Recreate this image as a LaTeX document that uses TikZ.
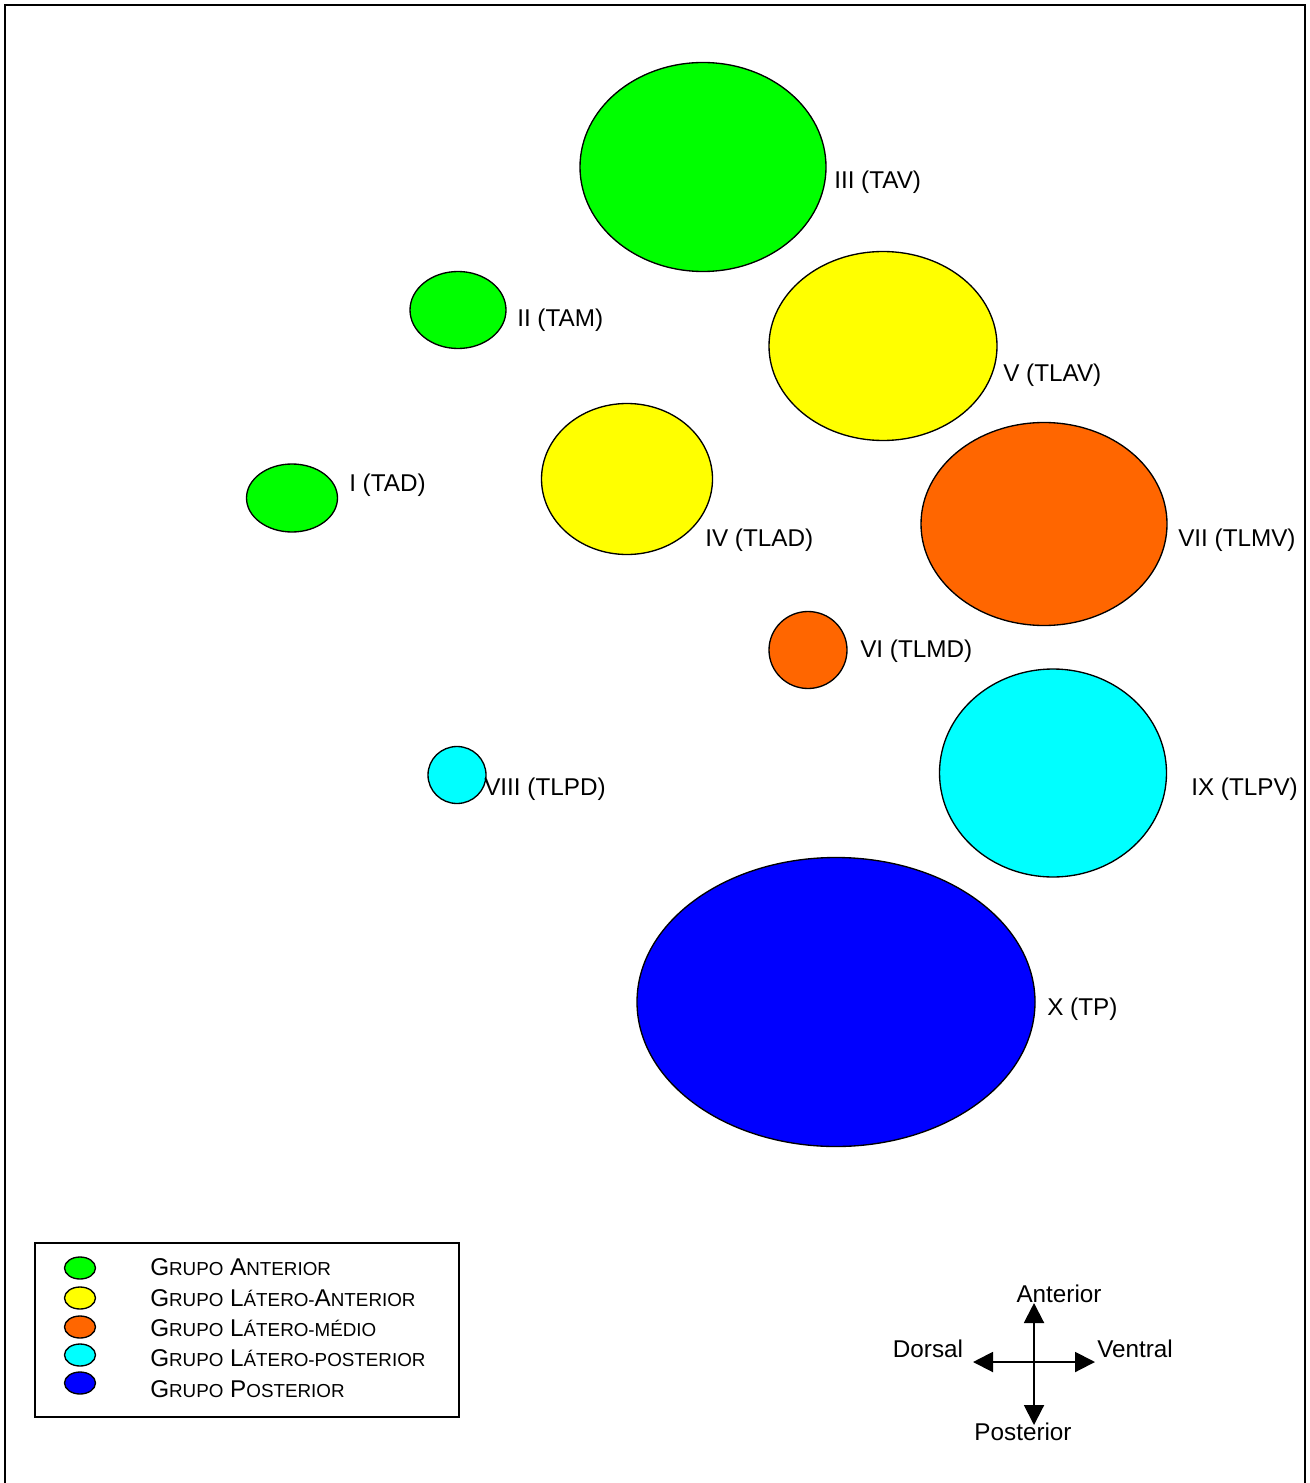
\documentclass[tikz,border=0pt]{standalone}
\usepackage{fontspec}
\setmainfont{Liberation Sans}
\usetikzlibrary{shapes.geometric,arrows.meta}
\newcommand{\Sm}[1]{{\fontsize{14.1}{16}\selectfont #1}}
\definecolor{grpA}{RGB}{0,255,0}
\definecolor{grpLA}{RGB}{255,255,0}
\definecolor{grpLM}{RGB}{255,102,0}
\definecolor{grpLP}{RGB}{0,255,255}
\definecolor{grpP}{RGB}{0,0,255}
\tikzset{%
blob/.style args={#1/#2/#3}{
  ellipse, draw, line width=1pt, fill=#1, inner sep=0pt,
  minimum width=#2*0.75pt, minimum height=#3*0.75pt
},
tag/.style={anchor=west, inner sep=0pt, font=\fontsize{18.2}{20}\selectfont},
legtext/.style={anchor=west, inner sep=0pt, font=\fontsize{18.2}{20}\selectfont},
dir/.style={inner sep=0pt, font=\fontsize{18.2}{20}\selectfont},
}

\begin{document}
\begin{tikzpicture}[x=0.75pt,y=-0.75pt]
    \useasboundingbox (0,0) rectangle (1309,1483);
    \draw[line width=1.5pt] (5,1483) -- (5,5) -- (1305,5) -- (1305,1483);
    % lobes
    \node[blob=grpA/246/209]  (tav)  at (703,167)  {};
    \node[blob=grpA/96/77]    (tam)  at (458,310)  {};
    \node[blob=grpA/91/68]    (tad)  at (292,498)  {};
    \node[blob=grpLA/228/189] (tlav) at (883,346)  {};
    \node[blob=grpLA/171/151] (tlad) at (627,479)  {};
    \node[blob=grpLM/246/203] (tlmv) at (1044,524) {};
    \node[blob=grpLM/78/77]   (tlmd) at (808,650)  {};
    \node[blob=grpLP/58/57]   (tlpd) at (457,775)  {};
    \node[blob=grpLP/227/208] (tlpv) at (1053,773) {};
    \node[blob=grpP/398/289]  (tp)   at (836,1002) {};
    % labels
    \node[tag] (ltav)  at (834,182)  {III (TAV)};
    \node[tag] (ltam)  at (517,320)  {II (TAM)};
    \node[tag] (ltlav) at (1003,375) {V (TLAV)};
    \node[tag] (ltad)  at (349,485)  {I (TAD)};
    \node[tag] (ltlad) at (705,540)  {IV (TLAD)};
    \node[tag] (ltlmv) at (1178,540) {VII (TLMV)};
    \node[tag] (ltlmd) at (860,651)  {VI (TLMD)};
    \node[tag] (ltlpd) at (484,789)  {VIII (TLPD)};
    \node[tag] (ltlpv) at (1191,789) {IX (TLPV)};
    \node[tag] (ltp)   at (1047,1009) {X (TP)};
    % legend
    \draw[line width=1pt] (35,1243) rectangle (459,1417);
    \node[blob=grpA/31/22]  (kA)  at (80,1268) {};
    \node[blob=grpLA/31/22] (kLA) at (80,1298) {};
    \node[blob=grpLM/31/22] (kLM) at (80,1327) {};
    \node[blob=grpLP/31/22] (kLP) at (80,1355) {};
    \node[blob=grpP/31/22]  (kP)  at (80,1383) {};
    \node[legtext] (tA)  at (150,1267) {G\Sm{RUPO} A\Sm{NTERIOR}};
    \node[legtext] (tLA) at (150,1298) {G\Sm{RUPO} L\Sm{ÁTERO-}A\Sm{NTERIOR}};
    \node[legtext] (tLM) at (150,1328) {G\Sm{RUPO} L\Sm{ÁTERO-MÉDIO}};
    \node[legtext] (tLP) at (150,1358) {G\Sm{RUPO} L\Sm{ÁTERO-POSTERIOR}};
    \node[legtext] (tP)  at (150,1389) {G\Sm{RUPO} P\Sm{OSTERIOR}};
    % compass
    \coordinate (ctr) at (1034,1362);
    \coordinate (up) at (1034,1303);
    \coordinate (down) at (1034,1425);
    \coordinate (left) at (973,1362);
    \coordinate (right) at (1095,1362);
    \draw[line width=1.5pt,-{Triangle[length=15pt,width=15pt]}] (ctr) -- (up);
    \draw[line width=1.5pt,-{Triangle[length=15pt,width=15pt]}] (ctr) -- (down);
    \draw[line width=1.5pt,-{Triangle[length=15pt,width=15pt]}] (ctr) -- (left);
    \draw[line width=1.5pt,-{Triangle[length=15pt,width=15pt]}] (ctr) -- (right);
    \node[dir] (ant) at (1059,1294) {Anterior};
    \node[dir] (dor) at (928,1349) {Dorsal};
    \node[dir,anchor=west] (ven) at (1097,1349) {Ventral};
    \node[dir] (pos) at (1023,1432) {Posterior};
\end{tikzpicture}
\end{document}
